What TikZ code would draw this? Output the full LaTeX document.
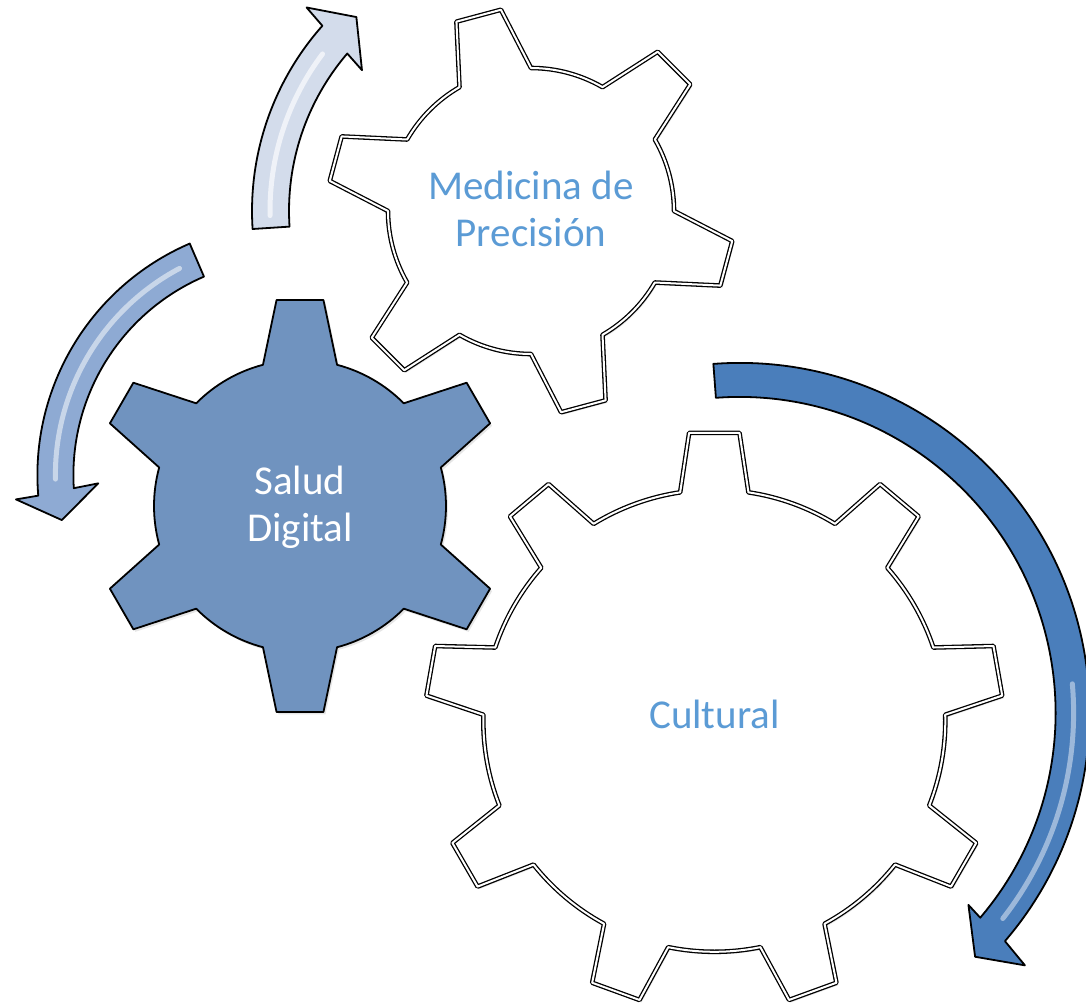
\documentclass[tikz,border=0pt]{standalone}
\usepackage{fontspec}
\setmainfont{Carlito}
\usepackage{tikz}
\usetikzlibrary{calc,shadows}

\definecolor{gearblue}{HTML}{7093BF}
\definecolor{txtblue}{HTML}{5B9BD5}
\definecolor{arrowpale}{HTML}{D3DCEB}
\definecolor{arrowmid}{HTML}{8EAAD3}
\definecolor{arrowdark}{HTML}{4A7EBB}

% teeth, first tooth angle, body radius, tip radius, half base angle, half tip angle
\newcommand{\gearpath}[6]{(#2-#5:#3pt) \foreach \k in {1,...,#1}{
    -- ({#2+(\k-1)*360/#1-#6}:#4pt) -- ({#2+(\k-1)*360/#1+#6}:#4pt)
    -- ({#2+(\k-1)*360/#1+#5}:#3pt)
    arc[start angle={#2+(\k-1)*360/#1+#5}, end angle={#2+\k*360/#1-#5}, radius=#3pt]} -- cycle}

\begin{document}
\begin{tikzpicture}[x=1pt, y=1pt, line join=round,
    soft shadow/.style = {drop shadow={opacity=0.2, shadow xshift=2pt, shadow yshift=-2.5pt}},
    solid gear/.style = {draw=black, line width=1.8pt, fill=gearblue, soft shadow},
    open gear/.style = {draw=black, line width=1.3pt, double=white, double distance=2pt, fill=white, soft shadow},
    block arrow/.style = {draw=black, line width=1.8pt},
    gloss/.style = {line width=5pt, opacity=0.65, line cap=round},
    gear text/.style = {font=\fontsize{41}{47}\selectfont, align=center}]
  \useasboundingbox (0,0) rectangle (1086,-1004);

  \begin{scope}[shift={(531,-211)}]
    \draw[block arrow, fill=arrowpale] (183.7:279pt) arc[start angle=183.7, end angle=138.4, radius=279pt]
      -- (137.8:303pt) -- (132:261pt) -- (140.2:220pt) -- (139.4:242pt)
      arc[start angle=139.4, end angle=183.7, radius=242pt] -- cycle;
    \draw[gloss, white] (181:261pt) arc[start angle=181, end angle=143, radius=261pt];
    \draw[open gear] \gearpath{6}{105}{143}{203.5}{15}{6.5};
  \end{scope}

  \begin{scope}[shift={(289.4,-475)}]
    \draw[block arrow, fill=arrowmid] (113.3:252pt) arc[start angle=113.3, end angle=184.7, radius=252pt]
      -- (185.1:274.5pt) -- (191.2:232pt) -- (182.5:191.3pt) -- (183.5:216pt)
      arc[start angle=183.5, end angle=113.3, radius=216pt] -- cycle;
    \draw[gloss, white!80!arrowmid] (118:234pt) arc[start angle=118, end angle=181, radius=234pt];
  \end{scope}

  \begin{scope}[shift={(300,-506)}]
    \draw[solid gear] \gearpath{6}{90}{146}{207.3}{14.7}{6.5};
  \end{scope}

  \begin{scope}[shift={(739.6,-712.9)}]
    \draw[block arrow, fill=arrowdark] (94.3:350pt) arc[start angle=94.3, end angle=-40.7, radius=350pt]
      -- (-41.5:381pt) -- (-46:339pt) -- (-40:298.7pt) -- (-40.4:316pt)
      arc[start angle=-40.4, end angle=94.3, radius=316pt] -- cycle;
    \draw[gloss, white!70!arrowdark] (5:334pt) arc[start angle=5, end angle=-38, radius=334pt];
  \end{scope}

  \begin{scope}[shift={(714.3,-720.8)}]
    \draw[open gear] \gearpath{9}{90}{231}{289}{8.5}{5};
  \end{scope}

  \node[gear text, text=white] (salud) at (300,-507) {Salud\\Digital};
  \node[gear text, text=txtblue] (medicina) at (531,-209) {Medicina de\\Precisión};
  \node[gear text, text=txtblue] (cultural) at (714.5,-714) {Cultural};
\end{tikzpicture}
\end{document}
